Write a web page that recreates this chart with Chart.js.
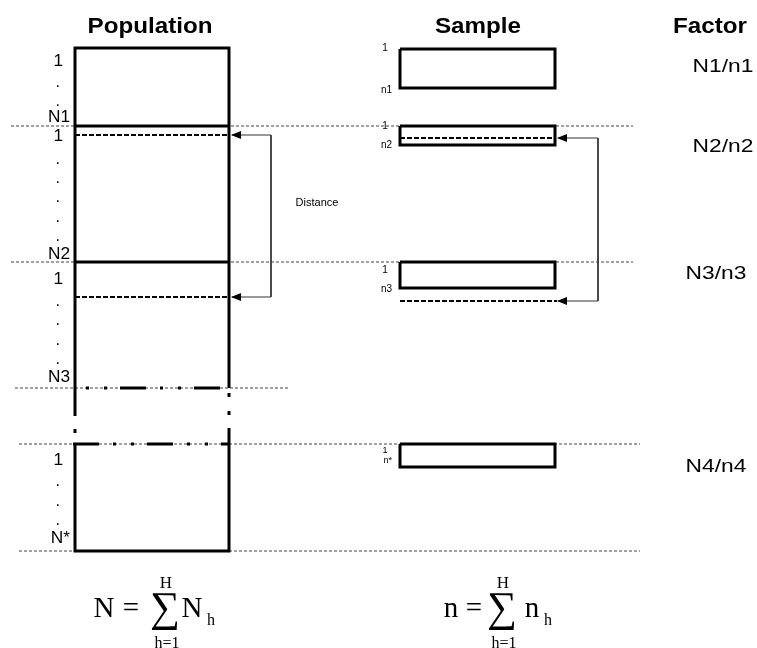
<!DOCTYPE html>
<html>
<head>
<meta charset="utf-8">
<script src="https://cdn.jsdelivr.net/npm/chart.js@4/dist/chart.umd.min.js"></script>
<style>
  html, body { margin: 0; padding: 0; background: #fff; }
  #wrap { position: relative; width: 757px; height: 648px; }
</style>
</head>
<body>
<div id="wrap"><canvas id="diagram"></canvas></div>
<script>
// diagram units: x 0..757 left to right, y 0..648 top to bottom
const titles = ["Population", "Sample", "Factor"];
const titleX = [150, 478, 710];

// population column: strata boundaries (top, N1, N2, N3, restart, N*)
const popX = [75, 229];
const popEdges = [48, 126, 262, 388, 444, 551];
const popStart = [62, 137, 280, 461];              // "1" of each stratum
const popEnd = ["N1", "N2", "N3", "N*"];
const popEndY = [118, 255, 378, 539];
const popDots = [[85, 104], [162, 181, 200, 220, 239], [304, 323, 343, 362], [484, 504, 523]];

// sample column
const sampleX = [400, 555];
const sampleTop = [49, 126, 262, 444];
const sampleBottom = [88, 145, 288, 467];
const sampleStartY = [48, 126, 270, 451];
const sampleEnd = ["n1", "n2", "n3", "n*"];
const sampleEndY = [90, 145, 289, 461];

// factor column
const factorLabels = ["N1/n1", "N2/n2", "N3/n3", "N4/n4"];
const factorX = [723, 723, 716, 716];
const factorY = [67, 147, 274, 467];

// thin dotted guides across the page
const guideY = [126, 262, 388, 444, 551];
const guideFrom = [11, 11, 15, 19, 19];
const guideTo = [633, 633, 290, 640, 640];

// "distance" between the selected units (dashed) in stratum 2 and 3
const popPick = [135, 297];
const samplePick = [138, 301];
const popLinkX = 271;
const sampleLinkX = 598;

const datasets = [];
function addLine(points, style, order) {
    datasets.push(Object.assign({
        data: points.map(p => ({ x: p[0], y: p[1] })),
        showLine: true,
        pointRadius: 0,
        borderColor: "#000",
        borderWidth: 3,
        borderCapStyle: "butt",
        borderJoinStyle: "miter",
        fill: false,
        order: order
    }, style));
}

// guides (drawn first)
guideY.forEach((gy, i) => {
    addLine([[guideFrom[i], gy], [guideTo[i], gy]], { borderWidth: 1, borderColor: "#444", borderDash: [3, 2] }, 10);
});

// population box, broken between N3 and the last stratum
const [px0, px1] = popX;
addLine([[px0, 416], [px0, popEdges[0]], [px1, popEdges[0]], [px1, popEdges[3]]], {}, 1);
addLine([[px1, 428], [px1, popEdges[5]], [px0, popEdges[5]], [px0, popEdges[4]]], {}, 1);
addLine([[px0, 429], [px0, 433]], {}, 1);
addLine([[px1, 393], [px1, 397]], {}, 1);
addLine([[px1, 411], [px1, 415]], {}, 1);
addLine([[px0, popEdges[1]], [px1, popEdges[1]]], {}, 1);
addLine([[px0, popEdges[2]], [px1, popEdges[2]]], {}, 1);
addLine([[px0, popEdges[3]], [px1, popEdges[3]]], { borderDash: [26, 14, 3, 15, 3, 13], borderDashOffset: 29 }, 1);
addLine([[px0 - 2, popEdges[4]], [px1, popEdges[4]]], { borderDash: [26, 14, 3, 15, 3, 13], borderDashOffset: 0 }, 1);

// sample boxes
sampleTop.forEach((t, i) => {
    const b = sampleBottom[i];
    addLine([[sampleX[0], t], [sampleX[1], t], [sampleX[1], b], [sampleX[0], b], [sampleX[0], t]], {}, 1);
});

// selected units (dashed)
popPick.forEach(v => addLine([[px0, v], [px1, v]], { borderWidth: 2, borderDash: [5, 2] }, 2));
addLine([[sampleX[0], samplePick[0]], [sampleX[1], samplePick[0]]], { borderWidth: 2, borderDash: [5, 2] }, 2);
addLine([[sampleX[0], samplePick[1]], [sampleX[1] + 2, samplePick[1]]], { borderWidth: 2, borderDash: [5, 2] }, 2);

// distance connectors
addLine([[px1 + 3, popPick[0]], [popLinkX, popPick[0]], [popLinkX, popPick[1]], [px1 + 3, popPick[1]]], { borderWidth: 1, borderColor: "#333" }, 3);
addLine([[sampleX[1] + 3, samplePick[0]], [sampleLinkX, samplePick[0]], [sampleLinkX, samplePick[1]], [sampleX[1] + 3, samplePick[1]]], { borderWidth: 1, borderColor: "#333" }, 3);

const arrowTips = [[px1 + 2, popPick[0]], [px1 + 2, popPick[1]], [sampleX[1] + 2, samplePick[0]], [sampleX[1] + 2, samplePick[1]]];

// N = sum_{h=1}^{H} N_h   and   n = sum_{h=1}^{H} n_h
const formulaSymbols = ["N", "n"];
const formulaX = [[104, 131, 165, 192, 211], [451, 474, 502, 532, 548]];

const textPlugin = {
    id: "diagramText",
    afterDatasetsDraw(chart) {
        const { ctx, scales: { x, y } } = chart;
        function put(txt, vx, vy, font, align, base, sx) {
            ctx.save();
            ctx.font = font;
            ctx.fillStyle = "#000";
            ctx.textAlign = align;
            ctx.textBaseline = base;
            ctx.translate(x.getPixelForValue(vx), y.getPixelForValue(vy));
            ctx.scale(sx || 1, 1);
            ctx.fillText(txt, 0, 0);
            ctx.restore();
        }
        // glyph fitted into a box (top..bottom), centred on cx
        function fit(txt, cx, top, bottom, family) {
            ctx.save();
            ctx.font = "100px " + family;
            const m = ctx.measureText(txt);
            const h = m.actualBoundingBoxAscent + m.actualBoundingBoxDescent;
            const size = 100 * (bottom - top) / h;
            ctx.font = size + "px " + family;
            const m2 = ctx.measureText(txt);
            ctx.fillStyle = "#000";
            ctx.textAlign = "center";
            ctx.textBaseline = "alphabetic";
            ctx.fillText(txt, x.getPixelForValue(cx), y.getPixelForValue(bottom) - m2.actualBoundingBoxDescent);
            ctx.restore();
        }

        // arrow heads pointing left
        ctx.save();
        ctx.fillStyle = "#000";
        arrowTips.forEach(t => {
            const tx = x.getPixelForValue(t[0]), ty = y.getPixelForValue(t[1]);
            ctx.beginPath();
            ctx.moveTo(tx, ty);
            ctx.lineTo(tx + 10, ty - 4);
            ctx.lineTo(tx + 10, ty + 4);
            ctx.closePath();
            ctx.fill();
        });
        ctx.restore();

        const sans = "'Liberation Sans', Arial, sans-serif";
        const serif = "'Liberation Serif', 'Times New Roman', serif";

        titles.forEach((t, i) => put(t, titleX[i], 33, "bold 22px " + sans, "center", "alphabetic", 1.1));

        popStart.forEach(v => put("1", 63, v, "16px " + sans, "right", "middle", 1.08));
        popEnd.forEach((t, i) => put(t, 70, popEndY[i], "16px " + sans, "right", "middle", 1.08));
        popDots.forEach(list => list.forEach(v => put(".", 60, v + 2, "16px " + sans, "right", "alphabetic", 1)));

        sampleStartY.forEach((v, i) => put("1", 385, v, (i === 3 ? "9px " : "10px ") + sans, "center", "middle", 1));
        sampleEnd.forEach((t, i) => put(t, 392, sampleEndY[i], (i === 3 ? "9px " : "10px ") + sans, "right", "middle", 1));

        put("Distance", 317, 203, "11px " + sans, "center", "middle", 1);

        factorLabels.forEach((t, i) => put(t, factorX[i], factorY[i], "19px " + sans, "center", "middle", 1.2));

        formulaSymbols.forEach((s, i) => {
            const cx = formulaX[i];
            put(s, cx[0], 617, "29px " + serif, "center", "alphabetic", 1);
            put("=", cx[1], 617, "29px " + serif, "center", "alphabetic", 1);
            fit("\u2211", cx[2], 593, 630, serif);
            put("H", cx[2] + 1, 588, "17px " + serif, "center", "alphabetic", 1);
            put("h=1", cx[2] + 2, 648, "16px " + serif, "center", "alphabetic", 1);
            put(s, cx[3], 617, "29px " + serif, "center", "alphabetic", 1);
            put("h", cx[4], 625, "16px " + serif, "center", "alphabetic", 1);
        });
    }
};

new Chart(document.getElementById("diagram"), {
    type: "scatter",
    data: { datasets: datasets },
    options: {
        responsive: true,
        maintainAspectRatio: false,
        animation: false,
        events: [],
        layout: { padding: 0, autoPadding: false },
        plugins: { legend: { display: false }, tooltip: { enabled: false } },
        scales: {
            x: { type: "linear", min: 0, max: 757, display: false },
            y: { type: "linear", min: 0, max: 648, reverse: true, display: false }
        }
    },
    plugins: [textPlugin]
});
</script>
</body>
</html>
